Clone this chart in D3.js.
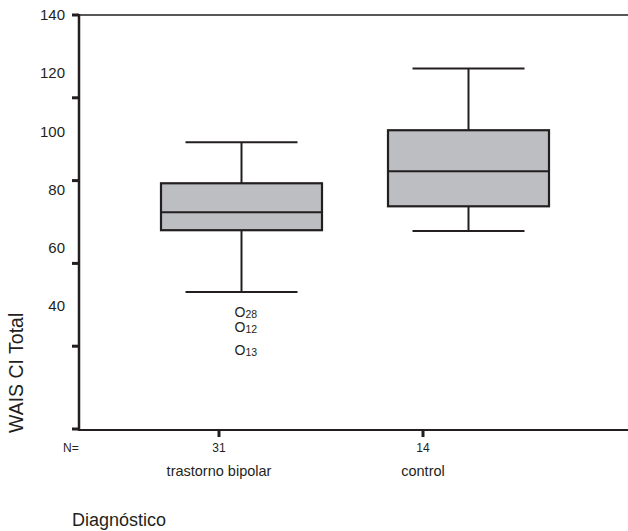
<!DOCTYPE html>
<html lang="es">
<head>
<meta charset="utf-8">
<title>WAIS CI Total por diagnóstico</title>
<script src="https://d3js.org/d3.v7.min.js"></script>
<style>
  body { margin: 0; background: #fff; }
  svg text { font-family: "Liberation Sans", Arial, sans-serif; fill: #231f20; }
</style>
</head>
<body>
<div id="chart"></div>
<script>
// data
const categories = ["trastorno bipolar", "control"];
const counts = [31, 14];
const whiskerLow = [44.8, 65.7];
const q1 = [66.0, 74.2];
const medians = [72.2, 86.2];
const q3 = [82.1, 100.3];
const whiskerHigh = [96.2, 121.5];
const outlierGroup = ["trastorno bipolar", "trastorno bipolar", "trastorno bipolar"];
const outlierValues = [38.0, 32.8, 24.9];
const outlierCases = ["28", "12", "13"];
const yTickLabels = [140, 120, 100, 80, 60, 40];

const W = 628, H = 531;
const ink = "#231f20";

const svg = d3.select("#chart").append("svg")
  .attr("width", W).attr("height", H);

const plot = {left: 79, right: 628, top: 15, bottom: 430};

// value scale (labels + boxes)
const y = d3.scaleLinear().domain([40, 140]).range([306, 14.5]);
// tick marks in the original export sit on a different spacing
const yMarks = d3.scaleLinear().domain([40, 140]).range([429, 15]);

const xLabel = d3.scalePoint().domain(categories).range([219, 423]);
const xBox = d3.scalePoint().domain(categories).range([241.5, 468.5]);
const boxW = 161, capW = 112;

// frame
svg.append("line")
  .attr("x1", plot.left).attr("x2", plot.right)
  .attr("y1", plot.top).attr("y2", plot.top)
  .attr("stroke", ink).attr("stroke-width", 1.5);
svg.append("line")
  .attr("x1", plot.left).attr("x2", plot.right)
  .attr("y1", plot.bottom).attr("y2", plot.bottom)
  .attr("stroke", ink).attr("stroke-width", 2);
svg.append("line")
  .attr("x1", plot.left).attr("x2", plot.left)
  .attr("y1", plot.top - 1).attr("y2", plot.bottom + 1)
  .attr("stroke", ink).attr("stroke-width", 2.5);

// y tick marks
svg.append("g").selectAll("line")
  .data(yTickLabels)
  .join("line")
  .attr("x1", 72).attr("x2", plot.left)
  .attr("y1", d => yMarks(d)).attr("y2", d => yMarks(d))
  .attr("stroke", ink).attr("stroke-width", 3);

// y labels
svg.append("g").selectAll("text")
  .data(yTickLabels)
  .join("text")
  .attr("x", 65)
  .attr("y", d => y(d))
  .attr("dy", "0.36em")
  .attr("text-anchor", "end")
  .style("font-size", "15px")
  .text(d => d);

// y title
svg.append("text")
  .attr("transform", "translate(23,433) rotate(-90)")
  .attr("text-anchor", "start")
  .style("font-size", "19.5px")
  .text("WAIS CI Total");

// x ticks and labels
svg.append("g").selectAll("line")
  .data(categories)
  .join("line")
  .attr("x1", d => xLabel(d)).attr("x2", d => xLabel(d))
  .attr("y1", plot.bottom).attr("y2", plot.bottom + 7)
  .attr("stroke", ink).attr("stroke-width", 3);

svg.append("text")
  .attr("x", 63).attr("y", 452)
  .style("font-size", "12px")
  .text("N=");

svg.append("g").selectAll("text")
  .data(categories)
  .join("text")
  .attr("x", d => xLabel(d)).attr("y", 452)
  .attr("text-anchor", "middle")
  .style("font-size", "12px")
  .text((d, i) => counts[i]);

svg.append("g").selectAll("text")
  .data(categories)
  .join("text")
  .attr("x", d => xLabel(d)).attr("y", 476)
  .attr("text-anchor", "middle")
  .style("font-size", "14.5px")
  .text(d => d);

svg.append("text")
  .attr("x", 72).attr("y", 526)
  .style("font-size", "18px")
  .text("Diagnóstico");

// boxes
const boxes = svg.append("g").selectAll("g")
  .data(categories)
  .join("g");

boxes.append("line") // whisker stem
  .attr("x1", d => xBox(d)).attr("x2", d => xBox(d))
  .attr("y1", (d, i) => y(whiskerHigh[i])).attr("y2", (d, i) => y(whiskerLow[i]))
  .attr("stroke", ink).attr("stroke-width", 2);

boxes.append("line")
  .attr("x1", d => xBox(d) - capW / 2).attr("x2", d => xBox(d) + capW / 2)
  .attr("y1", (d, i) => y(whiskerHigh[i])).attr("y2", (d, i) => y(whiskerHigh[i]))
  .attr("stroke", ink).attr("stroke-width", 2);

boxes.append("line")
  .attr("x1", d => xBox(d) - capW / 2).attr("x2", d => xBox(d) + capW / 2)
  .attr("y1", (d, i) => y(whiskerLow[i])).attr("y2", (d, i) => y(whiskerLow[i]))
  .attr("stroke", ink).attr("stroke-width", 2);

boxes.append("rect")
  .attr("x", d => xBox(d) - boxW / 2)
  .attr("width", boxW)
  .attr("y", (d, i) => y(q3[i]))
  .attr("height", (d, i) => y(q1[i]) - y(q3[i]))
  .attr("fill", "#bdbec1")
  .attr("stroke", ink).attr("stroke-width", 2.2);

boxes.append("line")
  .attr("x1", d => xBox(d) - boxW / 2).attr("x2", d => xBox(d) + boxW / 2)
  .attr("y1", (d, i) => y(medians[i])).attr("y2", (d, i) => y(medians[i]))
  .attr("stroke", ink).attr("stroke-width", 2);

// outliers, drawn as "O" with case number
const outl = svg.append("g").selectAll("text")
  .data(outlierValues)
  .join("text")
  .attr("x", (d, i) => xBox(outlierGroup[i]) - 7)
  .attr("y", d => y(d) + 5)
  .style("font-size", "14px");
outl.append("tspan").text("O");
outl.append("tspan")
  .attr("dy", 1)
  .style("font-size", "10.5px")
  .text((d, i) => outlierCases[i]);
</script>
</body>
</html>
